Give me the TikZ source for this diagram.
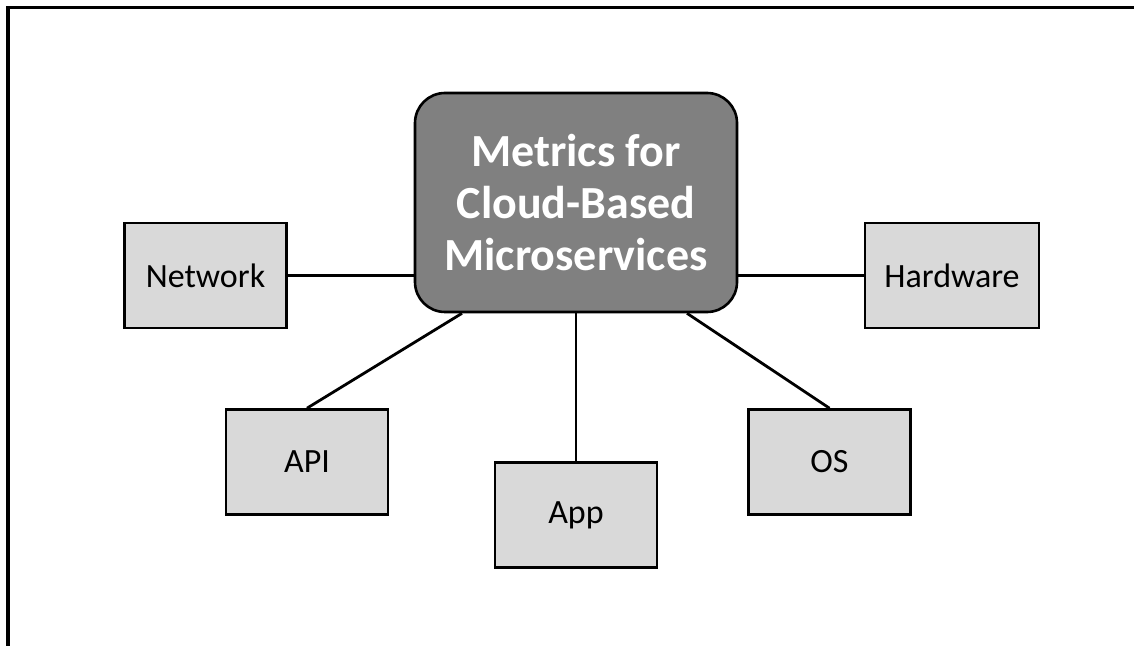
\documentclass[tikz,border=0pt]{standalone}
\usepackage{fontspec}
\setmainfont{Carlito}
\usetikzlibrary{positioning,calc}
\definecolor{hubfill}{HTML}{808080}
\definecolor{boxfill}{HTML}{D9D9D9}

\begin{document}
\begin{tikzpicture}[x=0.5pt,y=-0.5pt,
    hub/.style={draw=black,line width=1.3pt,rounded corners=15pt,fill=hubfill,text=white,
      minimum width=161pt,minimum height=109.5pt,align=center,
      font=\fontsize{23}{26}\selectfont\bfseries},
    mbox/.style={draw=black,line width=1.3pt,fill=boxfill,minimum width=81pt,minimum height=52.5pt,
      font=\fontsize{17}{20}\selectfont,inner sep=0pt},
    link/.style={line width=1.4pt,black},
    frame/.style={line width=1.7pt,black}]
    \useasboundingbox (0,0) rectangle (1134,646);
    \draw[frame](1134,7.5)--(8,7.5)--(8,646);
    \node[hub](hub) at (576,202.5){Metrics for\\Cloud-Based\\Microservices};
    \node[mbox](net) at (205.5,275.5){Network};
    \node[mbox,minimum width=87pt](hw) at (952,275.5){Hardware};
    \node[mbox](api) at (307,462){API};
    \node[mbox](app) at (576,515){App};
    \node[mbox](os) at (829.5,462){OS};
    \coordinate (hubsw) at ($(hub.south)+(-114,0)$);
    \coordinate (hubse) at ($(hub.south)+(111,0)$);
    \draw[link](net.east)--(net.east -| hub.west);\draw[link](hw.west)--(hw.west -| hub.east);
    \draw[link](api.north)--(hubsw);\draw[link](app.north)--(hub.south);\draw[link](os.north)--(hubse);
  \end{tikzpicture}
\end{document}
